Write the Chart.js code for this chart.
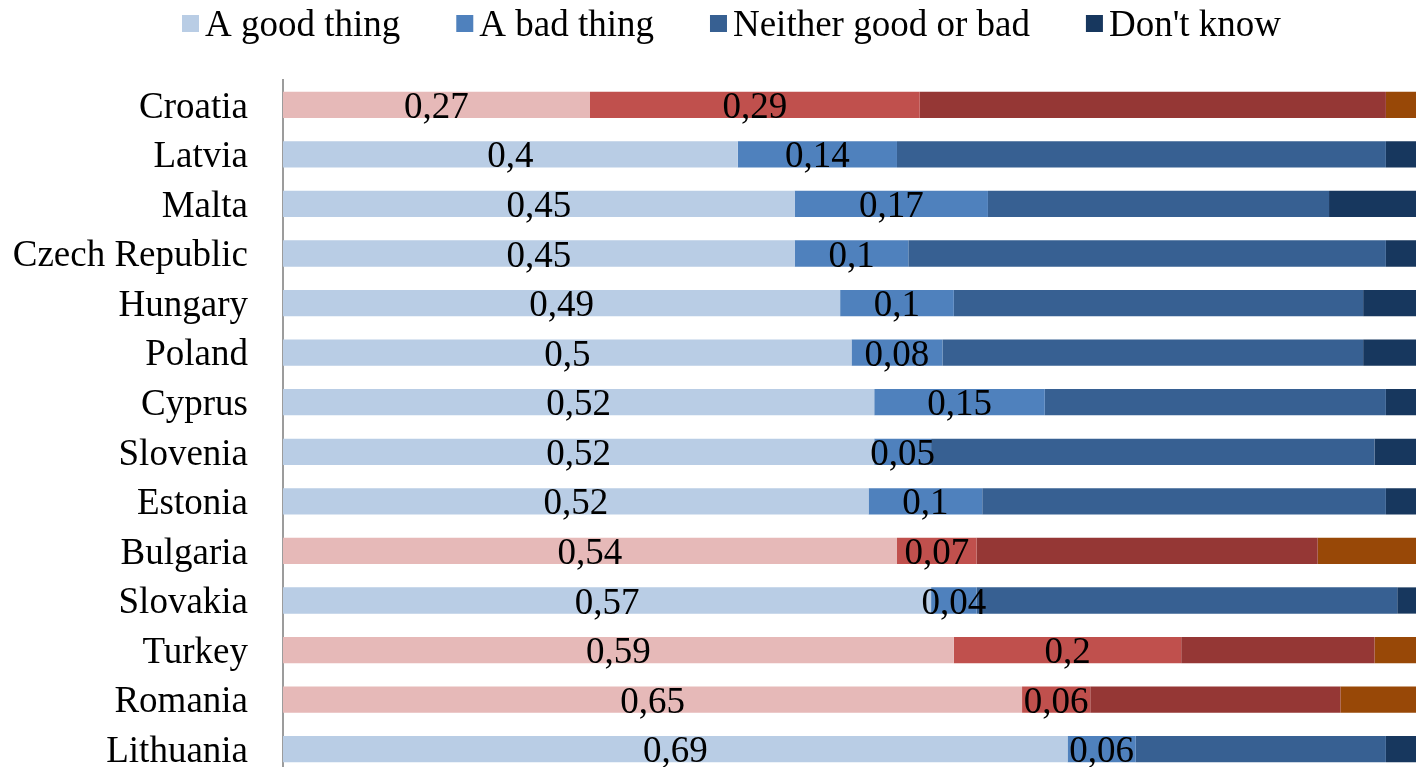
<!DOCTYPE html>
<html>
<head>
<meta charset="utf-8">
<script src="https://cdn.jsdelivr.net/npm/chart.js@4.4.1/dist/chart.umd.min.js"></script>
<style>
  html, body { margin: 0; padding: 0; background: #fff; overflow: hidden; }
  canvas { display: block; }
</style>
</head>
<body>
<canvas id="chart" width="1416" height="767"></canvas>
<script>
const countries = ['Croatia', 'Latvia', 'Malta', 'Czech Republic', 'Hungary', 'Poland', 'Cyprus',
  'Slovenia', 'Estonia', 'Bulgaria', 'Slovakia', 'Turkey', 'Romania', 'Lithuania'];
// rows drawn in the red palette
const redRows = [true, false, false, false, false, false, false, false, false, true, false, true, true, false];

const goodVals    = [0.27, 0.40, 0.45, 0.45, 0.49, 0.50, 0.52, 0.52, 0.515, 0.54, 0.57, 0.59, 0.65, 0.69];
const badVals     = [0.29, 0.14, 0.17, 0.10, 0.10, 0.08, 0.15, 0.05, 0.10, 0.07, 0.04, 0.20, 0.06, 0.06];
const neitherVals = [0.41, 0.43, 0.30, 0.42, 0.36, 0.37, 0.30, 0.39, 0.355, 0.30, 0.37, 0.17, 0.22, 0.22];
const dkVals      = [0.03, 0.03, 0.08, 0.03, 0.05, 0.05, 0.03, 0.04, 0.03, 0.09, 0.02, 0.04, 0.07, 0.03];

const seriesNames = ['A good thing', 'A bad thing', 'Neither good or bad', "Don't know"];
const blues = ['#B9CDE5', '#4F81BD', '#376092', '#17375E'];
const reds  = ['#E6B9B8', '#C0504D', '#953735', '#984807'];

const FONT = "'Liberation Serif', 'Times New Roman', serif";

function rowColors(i) {
    return redRows.map(r => r ? reds[i] : blues[i]);
}

// the original is cropped: plot area runs a little past the right and bottom edges
const bleed = {
    id: 'bleed',
    afterLayout(chart) {
        const { x, y } = chart.scales;
        chart.chartArea.bottom += 7;
        chart.chartArea.height += 7;
        chart.chartArea.right += 4;
        chart.chartArea.width += 4;
        y.bottom += 7;
        y.height += 7;
        y.configure();
        x.right += 4;
        x.width += 4;
        x.configure();
    }
};

// value labels on the first two series
const valueLabels = {
    id: 'valueLabels',
    afterDatasetsDraw(chart) {
        const ctx = chart.ctx;
        ctx.save();
        ctx.font = '37px ' + FONT;
        ctx.fillStyle = '#000';
        ctx.textAlign = 'center';
        ctx.textBaseline = 'alphabetic';
        [0, 1].forEach(di => {
            const meta = chart.getDatasetMeta(di);
            meta.data.forEach((bar, j) => {
                const v = chart.data.datasets[di].data[j];
                const txt = String(Math.round(v * 100) / 100).replace('.', ',');
                ctx.fillText(txt, (bar.x + bar.base) / 2, bar.y + 13);
            });
        });
        ctx.restore();
    }
};

// legend row at the top
const topLegend = {
    id: 'topLegend',
    afterDraw(chart) {
        const ctx = chart.ctx;
        ctx.save();
        ctx.font = '37px ' + FONT;
        ctx.textBaseline = 'alphabetic';
        ctx.textAlign = 'left';
        let x = 182;
        seriesNames.forEach((name, i) => {
            ctx.fillStyle = blues[i];
            ctx.fillRect(x, 15, 17, 17);
            ctx.fillStyle = '#000';
            ctx.fillText(name, x + 23, 36);
            x += 23 + ctx.measureText(name).width + 56;
        });
        ctx.restore();
    }
};

new Chart(document.getElementById('chart'), {
    type: 'bar',
    data: {
        labels: countries,
        datasets: [
            { label: seriesNames[0], data: goodVals, backgroundColor: rowColors(0) },
            { label: seriesNames[1], data: badVals, backgroundColor: rowColors(1) },
            { label: seriesNames[2], data: neitherVals, backgroundColor: rowColors(2) },
            { label: seriesNames[3], data: dkVals, backgroundColor: rowColors(3) }
        ]
    },
    options: {
        indexAxis: 'y',
        responsive: false,
        animation: false,
        datasets: {
            bar: { barPercentage: 0.53, categoryPercentage: 1, borderWidth: 0 }
        },
        layout: { padding: { top: 80, bottom: 0, left: 0, right: 0 } },
        scales: {
            x: {
                stacked: true,
                min: 0,
                max: 1,
                display: false
            },
            y: {
                stacked: true,
                grid: { display: false, drawTicks: false },
                border: { display: true, color: '#9c9c9c', width: 2 },
                ticks: {
                    color: '#000',
                    font: { family: FONT, size: 37 },
                    padding: 35,
                    labelOffset: 3
                },
                afterFit(scale) {
                    scale.width = 283;
                    scale.paddingTop = 0;
                    scale.paddingBottom = 0;
                }
            }
        },
        plugins: {
            legend: { display: false },
            tooltip: { enabled: false }
        }
    },
    plugins: [bleed, valueLabels, topLegend]
});
</script>
</body>
</html>
